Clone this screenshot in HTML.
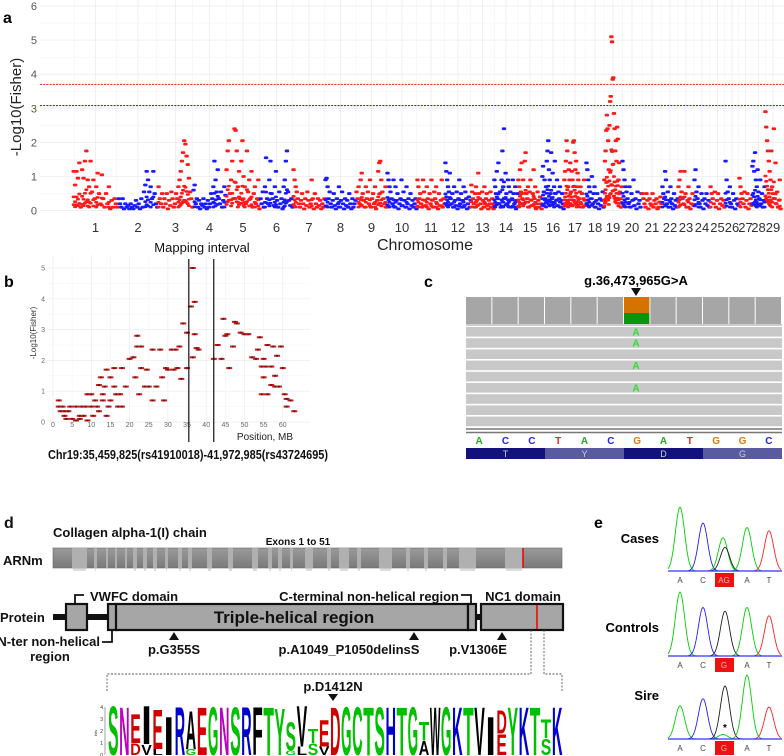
<!DOCTYPE html>
<html><head><meta charset="utf-8"><style>
html,body{margin:0;padding:0;background:#fff}
svg{display:block}
text{font-family:"Liberation Sans",Arial,sans-serif}
</style></head><body>
<svg id="fig" xmlns="http://www.w3.org/2000/svg" width="784" height="756" viewBox="0 0 784 756">
<g id="pa"></g>
<g id="pb"></g>
<g id="pc"></g>
<g id="pd"></g>
<g id="pe"></g>
</svg>
<script>
// ---------- Panel A data ----------
const chromLabels = ["1","2","3","4","5","6","7","8","9","10","11","12","13","14","15","16","17","18","19","20","21","22","23","24","25","26","27","28","29"];
const chromSizes = [45,40,35,33,34,33,32,31,31,30,28,26,23,24,24,22,22,18,18,20,20,16,16,16,15,14,13,13,16];
const yTicksA = [0,1,2,3,4,5,6];
const suggestiveLine = 3.08;
const significanceLine = 3.7;
const chromValues = [
[1.15,0.75,1.15,0.95,1.4,0.1,1.2,0.95,1.45,1.75,0.9,0.7,1.45,0.55,0.9,0.35,0.7,1.1,0.5,0.2,1.05,0.35,0.1,0.5,0.2,0.7,0.05,0.3,0.1,0.35,0.2,0.1],
[0.35,0.2,0.1,0.35,0.05,0.2,0.1,0.15,0.05,0.2,0.1,0.05,0.15,0.3,0.1,0.2,0.05,0.35,0.1,0.55,0.75,1.15,0.9,0.55,0.7,0.35,1.15,0.5,0.2,0.1],
[0.7,0.35,0.2,0.5,0.1,0.35,0.2,0.5,0.05,0.3,0.15,0.55,0.35,0.1,0.2,0.5,0.35,0.7,0.9,1.15,1.45,1.7,2.05,1.95,1.6,1.35,0.95,0.55,0.35,0.1],
[0.6,0.75,0.2,0.35,0.1,0.3,0.05,0.2,0.15,0.35,0.1,0.2,0.05,0.3,0.1,0.2,0.5,0.35,0.7,1.45,0.9,0.55,1.2,0.35,0.2,0.55,0.1,0.3,0.7,0.45],
[1.2,1.75,2.05,0.5,0.9,1.45,0.35,2.4,2.35,1.75,0.7,1.15,0.35,1.45,2.05,1.0,0.7,0.2,1.75,0.55,0.9,0.35,1.15,0.1,0.5,0.7,0.2,0.35,0.9,0.05],
[0.35,0.2,0.55,0.1,0.7,1.55,0.35,0.2,0.9,1.45,0.5,0.35,0.15,0.7,1.15,0.3,0.1,0.55,0.2,0.35,0.05,0.7,0.9,1.45,1.75,0.55,0.3,0.15,0.35,0.1],
[1.2,0.9,0.7,0.55,0.35,0.2,0.1,0.3,0.5,0.2,0.05,0.35,0.15,0.55,0.3,0.1,0.2,0.9,0.35,0.05,0.5,0.2,0.1,0.35,0.15,0.3,0.05,0.2,0.1,0.35],
[0.9,0.95,0.7,0.35,0.55,0.2,0.1,0.3,0.5,0.15,0.05,0.35,0.2,0.7,0.1,0.3,0.55,0.2,0.05,0.35,0.15,0.3,0.1,0.5,0.2,0.05,0.35,0.1,0.2,0.3],
[0.55,0.35,0.7,0.2,0.9,1.1,0.5,0.3,0.1,0.7,0.35,0.55,0.2,0.9,0.1,0.35,0.5,0.2,0.7,0.05,0.3,1.15,1.4,1.45,0.9,0.55,0.35,0.2,0.7,0.1],
[1.1,0.9,0.7,0.55,0.35,0.2,0.9,0.1,0.7,0.3,0.5,0.05,0.2,0.35,0.9,0.15,0.55,0.3,0.1,0.7,0.2,0.35,0.05,0.5,0.15,0.3,0.1,0.2,0.35,0.05],
[0.9,0.7,0.35,0.5,0.2,0.1,0.9,0.55,0.3,0.15,0.7,0.35,0.05,0.5,0.2,0.9,0.3,0.1,0.55,0.35,0.7,0.2,0.05,0.5,0.15,0.3,0.9,0.1,0.35,0.2],
[1.4,1.15,0.9,0.7,0.55,1.1,0.35,0.2,0.5,0.1,0.7,0.3,0.15,0.55,0.05,0.35,0.9,0.2,0.5,0.1,0.3,0.7,0.15,0.55,0.35,0.05,0.2,0.4,0.1,0.3],
[0.75,0.55,0.35,0.2,0.1,0.5,0.7,0.3,0.15,1.1,0.5,0.35,0.2,0.05,0.55,0.3,0.1,0.7,0.2,0.35,0.5,0.15,0.05,0.3,0.2,0.55,0.1,0.35,0.2,0.05],
[0.9,0.7,0.5,1.15,0.35,1.4,0.2,0.55,0.1,0.9,1.75,0.7,2.4,0.35,1.1,0.5,0.2,0.9,0.7,0.3,0.55,0.1,0.35,0.9,0.5,0.2,0.7,0.05,0.3,0.5],
[0.9,0.7,1.2,0.55,1.4,0.35,0.9,0.2,1.45,1.7,0.5,0.35,0.7,0.1,0.55,0.9,0.3,0.15,0.5,1.2,0.35,0.7,0.05,0.2,0.55,0.3,0.1,0.4,0.2,0.05],
[1.0,1.3,0.55,0.9,0.35,0.7,1.45,1.75,2.05,1.2,0.9,0.5,1.7,0.35,1.1,0.2,0.7,1.45,0.5,0.3,0.9,0.15,0.55,0.35,0.7,0.1,0.3,0.5,0.2,0.05],
[0.9,1.15,1.45,2.05,1.75,0.7,1.2,0.9,1.4,0.55,1.15,0.9,2.0,2.05,1.7,1.2,1.45,0.7,1.1,0.9,0.35,0.55,0.7,0.2,0.5,0.1,0.35,0.9,0.3,0.15],
[1.4,1.2,0.9,0.7,0.55,0.35,1.0,0.2,0.5,0.7,0.1,0.3,0.5,0.2,0.05,0.35,0.15,0.3,0.55,0.1],
[0.9,1.45,1.75,2.35,2.8,2.4,2.05,1.2,2.5,3.2,3.35,5.1,4.95,3.85,3.9,2.85,2.4,1.75,2.05,1.45,2.45,2.1,0.9,1.4,0.55,0.35,0.1,0.7],
[1.45,1.2,0.9,0.7,0.55,0.35,0.2,0.7,0.1,0.5,0.3,0.9,0.15,0.35,0.05,0.55,0.2,0.3,0.1,0.5],
[0.5,0.35,0.2,0.1,0.5,0.3,0.05,0.35,0.2,0.15,0.5,0.1,0.3,0.2,0.35,0.05,0.1,0.25,0.4,0.2],
[0.7,0.5,0.35,1.15,0.9,0.2,0.55,0.1,0.3,0.7,0.35,0.2,0.05,0.5,0.15,0.3,0.1,0.35],
[0.7,0.9,1.15,0.55,0.35,0.2,1.15,0.5,0.1,0.3,0.7,0.35,0.05,0.2,0.5,0.15],
[0.9,1.2,0.55,0.35,0.7,0.2,0.1,0.5,0.3,0.05,0.35,0.2,0.5,0.15,0.3,0.1],
[0.7,0.5,0.35,0.2,0.55,0.1,0.3,0.5,0.05,0.2,0.35,0.15,0.3,0.1],
[1.45,0.9,0.55,0.35,0.7,0.2,0.1,0.5,0.3,0.05,0.35,0.2,0.15],
[0.95,0.7,0.5,0.35,0.2,0.55,0.1,0.3,0.5,0.05,0.2,0.35,0.15],
[1.3,1.45,1.15,1.7,0.9,0.7,1.2,0.55,0.35,0.9,0.2,0.5,0.1,0.3,0.7],
[2.9,2.45,2.05,1.75,1.45,1.15,0.9,1.75,0.7,0.5,2.4,0.35,1.4,0.2,0.55,0.1,0.3,0.9,0.05]
];
// ---------- Panel B data ----------
const bPos = [1.5,1.5,2,2.5,3,3,3.5,4,4.5,5,6,6,7,7,7.5,8,8.5,9,9,10,10,10.5,11,11.5,12,12,12.5,13,13,13.5,14,14,14.5,15,15,16,16,16.5,17,17.5,18,18,19,20,21,21.5,22,22,22.5,23,23,24,24.5,25,26,26,27,28,28.5,29,29.5,30,31,31.5,32,32.5,33,33.5,34,35,35,36,36.5,36.5,37,37,37.5,38,42,43,44,44.5,45,45.5,46,47,47.5,48,49,50,51,52,53,53.5,54,54.5,54.5,55,55,55.5,56,56,57,57,57.5,58,58,58.5,59,59.5,60,60.5,61,61,62,63];
const bVal = [0.7,0.5,0.35,0.5,0.35,0.2,0.1,0.35,0.5,0.1,0.05,0.5,0.2,0.1,0.5,0.2,0.5,0.05,0.9,0.9,0.5,0.2,0.7,0.5,1.2,0.35,1.45,0.9,0.7,1.15,1.7,0.2,0.5,1.45,0.7,1.75,1.15,0.9,0.5,0.9,1.75,0.5,1.15,2.05,2.1,1.45,2.8,2.45,0.9,1.75,2.45,1.15,1.7,1.15,0.7,2.35,1.15,2.35,1.45,0.7,1.75,1.7,2.35,1.7,2.35,1.75,2.45,1.4,3.2,2.9,1.75,3.75,5.0,2.1,3.9,2.85,2.4,2.35,2.05,2.5,2.05,3.35,2.8,2.85,1.75,2.45,3.25,3.2,2.9,2.85,2.85,2.1,2.05,2.35,2.75,1.8,0.9,1.45,2.05,1.8,2.5,0.9,1.8,1.2,2.45,1.5,1.15,2.15,1.15,2.45,1.75,0.9,0.75,0.5,0.7,0.35];
const bXTicks = [0,5,10,15,20,25,30,35,40,45,50,55,60];
const bYTicks = [0,1,2,3,4,5];
const intervalStartMb = 35.46;
const intervalEndMb = 41.97;
// ---------- Panel E data ----------
const traceLabels = ["Cases","Controls","Sire"];
const baseCalls = [["A","C","AG","A","T"],["A","C","G","A","T"],["A","C","G","A","T"]];
const peakColors = ["#00d000","#2020ff","#00d000","#202020","#00d000","#ff2020"];
const casesPeaks = [1.0,0.75,0.52,0.37,0.68,0.63];
const controlsPeaks = [1.0,0.76,0,0.70,0.76,0.63];
const sirePeaks = [0.52,0.63,0.07,0.83,1.0,0.50];

const NS="http://www.w3.org/2000/svg";
function el(tag,attrs,parent,txt){const e=document.createElementNS(NS,tag);for(const k in attrs)e.setAttribute(k,attrs[k]);if(txt!==undefined)e.textContent=txt;parent.appendChild(e);return e;}

// ================= PANEL A =================
(function(){
const g=document.getElementById('pa');
const x0=73,x1=781,yB=210.6,unit=34.1;
const total=chromSizes.reduce((a,b)=>a+b,0);
const sx=v=>x0+v/total*(x1-x0);
const sy=v=>yB-v*unit;
// grid
for(let i=0;i<yTicksA.length;i++){
  const l=el('line',{x1:40,x2:784,y1:sy(yTicksA[i]),y2:sy(yTicksA[i]),stroke:'#ebebeb','stroke-width':0.8},g);
  
  
  if(i<yTicksA.length-1){el('line',{x1:40,x2:784,y1:sy(yTicksA[i]+0.5),y2:sy(yTicksA[i]+0.5),stroke:'#f4f4f4','stroke-width':0.6},g);}
  const t=el('text',{x:37,y:sy(yTicksA[i])+4,'text-anchor':'end','font-size':11,fill:'#555'},g,String(yTicksA[i]));
  
  
}
let cum=0;const centers=[];
for(let c=0;c<chromSizes.length;c++){centers.push(sx(cum+chromSizes[c]/2));cum+=chromSizes[c];}
for(let c=0;c<centers.length;c++){
  el('line',{x1:centers[c],x2:centers[c],y1:0,y2:211,stroke:'#ececec','stroke-width':0.8},g);
  const m=c===0?centers[0]-21:(centers[c]+centers[c-1])/2;
  el('line',{x1:m,x2:m,y1:0,y2:211,stroke:'#f3f3f3','stroke-width':0.6},g);
}
// points
cum=0;
for(let c=0;c<chromValues.length;c++){
  const vals=chromValues[c],n=vals.length,col=(c%2===0)?'#ff1a1a':'#1a1aff';
  const cg=el('g',{fill:col},g);
  
  
  for(let i=0;i<n;i++){
    const xv=sx(cum+(i+0.5)/n*chromSizes[c]);
    const p=el('rect',{x:xv-2.2,y:sy(vals[i])-1.4,width:4.4,height:2.8,rx:1},cg);
    
    
    // dense lower band echo
  }
  // low density band
  for(let i=0;i<n;i++){
    const v=vals[i];
    if(v>0.6){const xv=sx(cum+(i+0.5)/n*chromSizes[c]);
      el('rect',{x:xv-2,y:sy(v*0.35)-1.3,width:4,height:2.6,rx:1},cg);
      el('rect',{x:xv-2,y:sy(v*0.15)-1.3,width:4,height:2.6,rx:1},cg);}
  }
  cum+=chromSizes[c];
  const t=el('text',{x:centers[c],y:232,'text-anchor':'middle','font-size':13,fill:'#333'},g,chromLabels[c]);
  
  
}
const r=el('line',{x1:40,x2:784,y1:sy(significanceLine),y2:sy(significanceLine),stroke:'#ff3030','stroke-width':1.2,'stroke-dasharray':'2,1.2'},g);


const b=el('line',{x1:40,x2:784,y1:sy(suggestiveLine),y2:sy(suggestiveLine),stroke:'#3030ff','stroke-width':1.2,'stroke-dasharray':'2,1.2'},g);


const xt=el('text',{x:425,y:250,'text-anchor':'middle','font-size':16,fill:'#222'},g,'Chromosome');


const yt=el('text',{x:0,y:0,'text-anchor':'middle','font-size':15,fill:'#222',transform:'translate(21,107) rotate(-90)'},g,'-Log10(Fisher)');


const pl=el('text',{x:3,y:23,'font-size':16,'font-weight':'bold'},g,'a');


})();

// ================= PANEL B =================
(function(){
const g=document.getElementById('pb');
const sx=v=>53+v*3.83, sy=v=>422-v*30.8;
for(const t of bYTicks){
  el('line',{x1:47,x2:310,y1:sy(t),y2:sy(t),stroke:'#ececec','stroke-width':0.7},g);
  if(t<5)el('line',{x1:47,x2:310,y1:sy(t+0.5),y2:sy(t+0.5),stroke:'#f5f5f5','stroke-width':0.5},g);
  const l=el('text',{x:45,y:sy(t)+2.5,'text-anchor':'end','font-size':7,fill:'#666'},g,String(t));
  
  
}
for(const t of bXTicks){
  el('line',{x1:sx(t),x2:sx(t),y1:255,y2:422,stroke:t%10===0?'#ececec':'#f5f5f5','stroke-width':0.7},g);
  const l=el('text',{x:sx(t),y:427,'text-anchor':'middle','font-size':7,fill:'#666'},g,String(t));
  
  
}
const pg=el('g',{},g);


for(let i=0;i<bPos.length;i++){
  const p=el('rect',{x:sx(bPos[i])-3,y:sy(bVal[i])-1,width:6,height:2,fill:'#c82020'},pg);
  
  
  el('rect',{x:sx(bPos[i])-1,y:sy(bVal[i])-1,width:2,height:2,fill:'#701010'},pg);
}
for(const m of [intervalStartMb,intervalEndMb]){
  const l=el('line',{x1:sx(m),x2:sx(m),y1:259,y2:442,stroke:'#111','stroke-width':1.2},g);
  
  
}
const t1=el('text',{x:202,y:252,'text-anchor':'middle','font-size':13,fill:'#111'},g,'Mapping interval');

const t2=el('text',{x:265,y:440,'text-anchor':'middle','font-size':10,fill:'#222'},g,'Position, MB');

const t3=el('text',{x:0,y:0,'text-anchor':'middle','font-size':8,fill:'#333',transform:'translate(36,333) rotate(-90)'},g,'-Log10(Fisher)');

const t4=el('text',{x:188,y:459,'text-anchor':'middle','font-size':13,'font-weight':'bold',fill:'#111',textLength:280,lengthAdjust:'spacingAndGlyphs'},g,'Chr19:35,459,825(rs41910018)-41,972,985(rs43724695)');

const t5=el('text',{x:4,y:287,'font-size':16,'font-weight':'bold'},g,'b');

})();

// ================= PANEL C =================
(function(){
const g=document.getElementById('pc');
const x0=466,x1=782,cw=(x1-x0)/12;
const t=el('text',{x:636,y:285,'text-anchor':'middle','font-size':13,'font-weight':'bold'},g,'g.36,473,965G>A');

el('polygon',{points:'631,288 641,288 636,296',fill:'#111'},g);
el('text',{x:424,y:287,'font-size':16,'font-weight':'bold'},g,'c');
for(let i=0;i<12;i++){
  const r=el('rect',{x:x0+i*cw,y:297,width:cw-1,height:27,fill:'#a6a6a6'},g);
  
}
el('rect',{x:x0+6*cw,y:297,width:cw-1,height:16,fill:'#d47300'},g);
el('rect',{x:x0+6*cw,y:313,width:cw-1,height:11,fill:'#0a960a'},g);
el('line',{x1:x0,x2:x1,y1:325,y2:325,stroke:'#999','stroke-width':1},g);
const aRows=[0,1,3,5];
for(let i=0;i<9;i++){
  const y=327+i*11.2;
  const r=el('rect',{x:x0,y:y,width:x1-x0,height:9.6,fill:'#c8c8c8'},g);
  
  if(aRows.includes(i))el('text',{x:636,y:y+8.5,'text-anchor':'middle','font-size':10,'font-weight':'bold',fill:'#33dd33'},g,'A');
}
el('line',{x1:x0,x2:x1,y1:429,y2:429,stroke:'#777','stroke-width':1.5},g);
el('line',{x1:x0,x2:x1,y1:432.5,y2:432.5,stroke:'#777','stroke-width':1.5},g);
const bases="ACCTACGATGGC";const bc={A:'#22aa22',C:'#2222ee',T:'#ee2222',G:'#dd7711'};
for(let i=0;i<12;i++){
  const tt=el('text',{x:x0+(i+0.5)*cw,y:444,'text-anchor':'middle','font-size':10,'font-weight':'bold',fill:bc[bases[i]]},g,bases[i]);
  
}
const aa=["T","Y","D","G"],ac=['#12127a','#5a5aa0','#12127a','#5a5aa0'];
for(let i=0;i<4;i++){
  const r=el('rect',{x:x0+i*3*cw,y:448,width:3*cw,height:11,fill:ac[i]},g);
  
  el('text',{x:x0+(i*3+1.5)*cw,y:457,'text-anchor':'middle','font-size':9,fill:'#ccd'},g,aa[i]);
}
})();

// ================= PANEL D =================
(function(){
const g=document.getElementById('pd');
const B={'font-weight':'bold',fill:'#111'};
function tx(x,y,s,size,anchor,name){const t=el('text',Object.assign({x:x,y:y,'font-size':size,'text-anchor':anchor||'start'},B),g,s);return t;}
tx(4,528,'d',16,'start','panel-label-d');
tx(53,537,'Collagen alpha-1(I) chain',13,'start','gene-title');
tx(298,545,'Exons 1 to 51',10,'middle','exons-label');
tx(3,565,'ARNm',13,'start','mrna-label');
const defs=el('defs',{},g);
const lg=el('linearGradient',{id:'mg',x1:0,y1:0,x2:0,y2:1},defs);
el('stop',{offset:'0','stop-color':'#9a9a9a'},lg);el('stop',{offset:'0.5','stop-color':'#8a8a8a'},lg);el('stop',{offset:'1','stop-color':'#7a7a7a'},lg);
const mr=el('rect',{x:53,y:548,width:509,height:20,fill:'url(#mg)',stroke:'#666','stroke-width':0.6},g);

const ex=[[72,87],[94,97],[106,108],[115,117],[125,127],[133,137],[143,147],[153,157],[165,168],[178,182],[188,192],[207,212],[228,233],[252,258],[268,272],[278,282],[290,293],[305,313],[327,331],[339,349],[357,361],[379,392],[406,410],[424,428],[443,447],[459,476],[505,523]];
for(const e of ex){const r=el('rect',{x:e[0],y:548,width:e[1]-e[0],height:20,fill:'#b0b0b0'},g);
  el('rect',{x:e[0]+1,y:568,width:e[1]-e[0]-2,height:3,fill:'#bbb',opacity:0.5},g);}
el('line',{x1:523,x2:523,y1:548,y2:568,stroke:'#e00','stroke-width':1.5},g);
// protein
tx(0,622,'Protein',13,'start','protein-label');
el('rect',{x:53,y:614,width:55,height:6,fill:'#111'},g);
el('rect',{x:474,y:614,width:8,height:6,fill:'#111'},g);
const boxes=[[66,604,21,26,'vwfc-domain-box'],[108,604,9,26,'n-ter-box'],[116,604,352,26,'triple-helical-box'],[468,604,8,26,'c-ter-box'],[481,604,82,26,'nc1-domain-box']];
for(const b of boxes){const r=el('rect',{x:b[0],y:b[1],width:b[2],height:b[3],fill:'#a6a6a6',stroke:'#111','stroke-width':2.2},g);}
el('line',{x1:537,x2:537,y1:605,y2:629,stroke:'#e00','stroke-width':1.5},g);
tx(294,623,'Triple-helical region',17,'middle','triple-helical-label');
el('polyline',{points:'75,604 75,595 84,595',fill:'none',stroke:'#111','stroke-width':1.8},g);
tx(90,601,'VWFC domain',13,'start','vwfc-label');
el('polyline',{points:'461,595 471,595 471,604',fill:'none',stroke:'#111','stroke-width':1.8},g);
tx(459,601,'C-terminal non-helical region',13,'end','c-terminal-label');
tx(523,601,'NC1 domain',13,'middle','nc1-label');
el('polyline',{points:'102,642 112,642 112,630',fill:'none',stroke:'#111','stroke-width':1.8},g);
tx(100,646,'N-ter non-helical',13,'end','n-ter-label');
tx(50,661,'region',13,'middle','n-ter-label-2');
const muts=[[174,'p.G355S',174],[414,'p.A1049_P1050delinsS',349],[502,'p.V1306E',478]];
for(const m of muts){el('polygon',{points:(m[0]-5)+',640 '+(m[0]+5)+',640 '+m[0]+',632',fill:'#111'},g);tx(m[2],654,m[1],13,'middle','mutation-label');}
el('polyline',{points:'531,630 531,674 107,674 107,692',fill:'none',stroke:'#555','stroke-width':0.9,'stroke-dasharray':'2,1.5'},g);
el('polyline',{points:'544,630 544,674 562,674 562,692',fill:'none',stroke:'#555','stroke-width':0.9,'stroke-dasharray':'2,1.5'},g);
tx(333,691,'p.D1412N',13,'middle','variant-label');
el('polygon',{points:'328,694 338,694 333,701',fill:'#111'},g);
// logo
const GR='#00c000',MG='#c000c0',RD='#d00000',BL='#0000d0',BK='#000';
const logo=[['S',4.2,GR],['N',4.1,MG],['E',2.5,RD,'D',1.0,RD],['I',3.3,BK,'V',0.9,BK],['E',3.4,RD,'L',0.5,BK],['I',3.3,BK],['R',4.1,BL],['A',3.3,BK,'G',0.5,GR],['E',4.1,RD],['G',4.1,GR],['N',4.1,MG],['S',4.1,GR],['R',4.1,BL],['F',4.1,BK],['T',4.1,GR],['Y',4.0,GR],['S',2.4,GR,'G',0.4,GR],['V',3.5,BK,'L',0.7,BK],['T',1.2,GR,'S',1.0,GR],['E',2.3,RD,'V',0.7,BK],['D',4.1,RD],['G',4.1,GR],['C',4.1,GR],['T',4.1,GR],['S',4.1,GR],['H',4.1,BL],['T',4.1,GR],['G',4.1,GR],['T',1.6,GR,'A',1.2,BK],['W',4.1,BK],['G',4.1,GR],['K',4.1,BL],['T',4.1,GR],['V',4.1,BK],['I',3.3,BK],['D',2.0,RD,'E',1.8,RD],['Y',4.1,GR],['K',4.1,BL],['T',4.1,GR],['T',1.6,GR,'S',1.4,GR],['K',4.1,BL]];
const lx0=108,lw=(563-108)/logo.length,base=755,bit=12;
el('line',{x1:105,x2:105,y1:707,y2:755,stroke:'#444','stroke-width':0.5},g);
for(let k=0;k<=4;k++){el('text',{x:103,y:755-k*bit+2,'font-size':5,'text-anchor':'end',fill:'#333'},g,String(k));}
el('text',{x:0,y:0,'font-size':4,fill:'#333',transform:'translate(97,733) rotate(-90)','text-anchor':'middle'},g,'bits');
function letter(ch,h,col,x,yb){
  if(h<=0)return;const fs=h*bit/0.72;
  const t=el('text',{x:x,y:yb,'font-size':fs,'font-weight':'bold',fill:col,textLength:lw*0.95,lengthAdjust:'spacingAndGlyphs'},g,ch);
  
}
for(let i=0;i<logo.length;i++){
  const c=logo[i],x=lx0+i*lw;
  let yb=base;
  if(c.length>3){letter(c[3],c[4],c[5],x,yb);yb-=c[4]*bit;}
  letter(c[0],c[1],c[2],x,yb);
}
})();

// ================= PANEL E =================
(function(){
const g=document.getElementById('pe');
el('text',{x:594,y:528,'font-size':16,'font-weight':'bold'},g,'e');
const rows=[{y:571,lab:538,pk:casesPeaks},{y:656,lab:627,pk:controlsPeaks},{y:739,lab:695,pk:sirePeaks}];
const labX=[680,703,724,747,769];
const peakX=[680,703,723,725,747,769];
const H=64;
for(let r=0;r<3;r++){
  const R=rows[r];
  const lt=el('text',{x:659,y:R.lab+5,'text-anchor':'end','font-size':13,'font-weight':'bold'},g,traceLabels[r]);
  
  for(let p=0;p<6;p++){
    const h=R.pk[p];if(h<=0)continue;
    let d='';
    for(let x=668;x<=781;x+=1){const y=R.y-h*H*Math.exp(-Math.pow((x-peakX[p])/4.6,2)/2);d+=(x===668?'M':'L')+x+','+y.toFixed(1);}
    const pth=el('path',{d:d,fill:'none',stroke:peakColors[p],'stroke-width':0.9},g);
    
  }
  el('line',{x1:668,x2:782,y1:R.y,y2:R.y,stroke:'#3030ff','stroke-width':1.2},g);
  el('rect',{x:715,y:R.y+2,width:19,height:14,fill:'#ee1111'},g);
  for(let k=0;k<5;k++){
    const bt=el('text',{x:labX[k],y:R.y+12,'text-anchor':'middle','font-size':8,fill:k===2?'#fbb':'#444'},g,baseCalls[r][k]);
    
  }
}
el('text',{x:725,y:731,'text-anchor':'middle','font-size':10,'font-weight':'bold'},g,'*');
})();
</script>
</body></html>
